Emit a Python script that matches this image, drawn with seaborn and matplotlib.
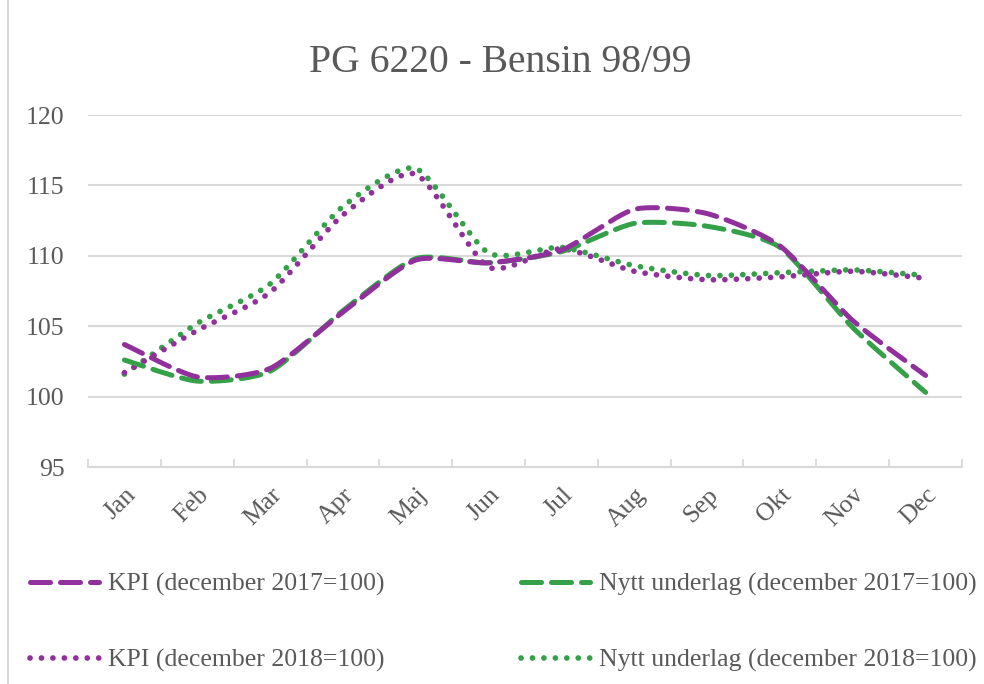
import matplotlib
matplotlib.use("Agg")
import matplotlib.pyplot as plt
import numpy as np
import pandas as pd
import seaborn as sns
from matplotlib.lines import Line2D

months = ["Jan", "Feb", "Mar", "Apr", "Maj", "Jun", "Jul", "Aug", "Sep", "Okt", "Nov", "Dec"]

kpi_2017 = [103.7, 101.4, 102.0, 106.0, 109.7, 109.5, 110.4, 113.3, 113.0, 110.7, 105.4, 101.5]
nytt_2017 = [102.6, 101.1, 101.8, 106.1, 109.8, 109.5, 110.3, 112.3, 112.1, 110.6, 104.9, 100.3]
kpi_2018 = [101.7, 104.7, 107.4, 112.9, 115.8, 109.2, 110.5, 108.9, 108.3, 108.5, 108.9, 108.4]
nytt_2018 = [101.6, 105.2, 108.0, 113.5, 116.2, 110.2, 110.6, 109.3, 108.6, 108.8, 109.0, 108.6]

PURPLE = "#912F9C"
GREEN = "#34A048"
GREY = "#595959"
GRID = "#D9D9D9"
TENSION = 1 / 9


def smooth(values, steps=40):
    """Excel-style smoothed line: cubic Bezier segments between the points."""
    p = np.asarray(values, dtype=float)
    x = np.arange(len(p), dtype=float)
    px = np.concatenate([[x[0]], x, [x[-1]]])
    py = np.concatenate([[p[0]], p, [p[-1]]])
    t = np.linspace(0, 1, steps)
    b = [(1 - t) ** 3, 3 * (1 - t) ** 2 * t, 3 * (1 - t) * t ** 2, t ** 3]
    out_x, out_y = [], []
    for i in range(1, len(px) - 2):
        cx = [px[i], px[i] + (px[i + 1] - px[i - 1]) * TENSION,
              px[i + 1] - (px[i + 2] - px[i]) * TENSION, px[i + 1]]
        cy = [py[i], py[i] + (py[i + 1] - py[i - 1]) * TENSION,
              py[i + 1] - (py[i + 2] - py[i]) * TENSION, py[i + 1]]
        out_x.append(sum(bk * c for bk, c in zip(b, cx)))
        out_y.append(sum(bk * c for bk, c in zip(b, cy)))
    return np.concatenate(out_x), np.concatenate(out_y)


sns.set_theme(style="white")
plt.rcParams["font.family"] = ["Liberation Serif", "DejaVu Serif"]

fig = plt.figure(figsize=(9.84, 6.84), dpi=100)
ax = fig.add_axes([88 / 984, 1 - 467 / 684, 874 / 984, 352 / 684])

series = [
    ("KPI (december 2017=100)", kpi_2017, PURPLE, "dash"),
    ("KPI (december 2018=100)", kpi_2018, PURPLE, "dot"),
    ("Nytt underlag (december 2017=100)", nytt_2017, GREEN, "dash"),
    ("Nytt underlag (december 2018=100)", nytt_2018, GREEN, "dot"),
]
STYLE = {"dash": (3.6, (4.0, 2.0)), "dot": (4.1, (0.01, 2.0))}

for idx in [3, 1, 2, 0]:
    label, vals, color, kind = series[idx]
    sx, sy = smooth(vals)
    df = pd.DataFrame({"x": sx, "y": sy})
    lw, dashes = STYLE[kind]
    sns.lineplot(data=df, x="x", y="y", ax=ax, color=color, linewidth=lw, sort=False)
    line = ax.lines[-1]
    line.set_dashes(dashes)
    line.set_dash_capstyle("round")

ax.set_xlim(-0.5, 11.5)
ax.set_ylim(95, 120)
ax.set_yticks(np.arange(95, 121, 5))
ax.set_xticks(range(12))
ax.set_xticklabels(months, rotation=45, ha="right", va="top", rotation_mode="anchor")
ax.set_xticks(np.arange(-0.5, 12, 1), minor=True)
ax.tick_params(axis="x", which="major", length=0, pad=12, labelsize=18.5, labelcolor=GREY)
ax.tick_params(axis="x", which="minor", direction="in", length=6, width=1.3, color=GRID, bottom=True)
ax.tick_params(axis="y", length=0, pad=17, labelsize=18.5, labelcolor=GREY)
ax.set_xlabel("")
ax.set_ylabel("")
ax.grid(axis="y", color=GRID, linewidth=1.5)
ax.set_axisbelow(True)
for side in ["top", "right", "left"]:
    ax.spines[side].set_visible(False)
ax.spines["bottom"].set_color(GRID)
ax.spines["bottom"].set_linewidth(1.5)

fig.text(500 / 984, 1 - 62 / 684, "PG 6220 - Bensin 98/99", ha="center", va="center",
         fontsize=28.5, color=GREY)

handles = []
for label, vals, color, kind in series:
    lw, dashes = STYLE[kind]
    handles.append(Line2D([], [], color=color, linewidth=lw, label=label,
                          dashes=dashes, dash_capstyle="round"))
fig.legend(handles=handles, ncol=2, loc="upper left", bbox_to_anchor=(30 / 984, 1 - 573 / 684),
           frameon=False, fontsize=18.5, labelcolor=GREY, handlelength=2.7, handletextpad=0.35,
           columnspacing=5.3, labelspacing=2.05, borderpad=0, borderaxespad=0)

fig.add_artist(Line2D([8 / 984, 8 / 984], [0, 1], color=GRID, linewidth=1.5, transform=fig.transFigure))

fig.savefig("out.png", dpi=100, facecolor="white")
